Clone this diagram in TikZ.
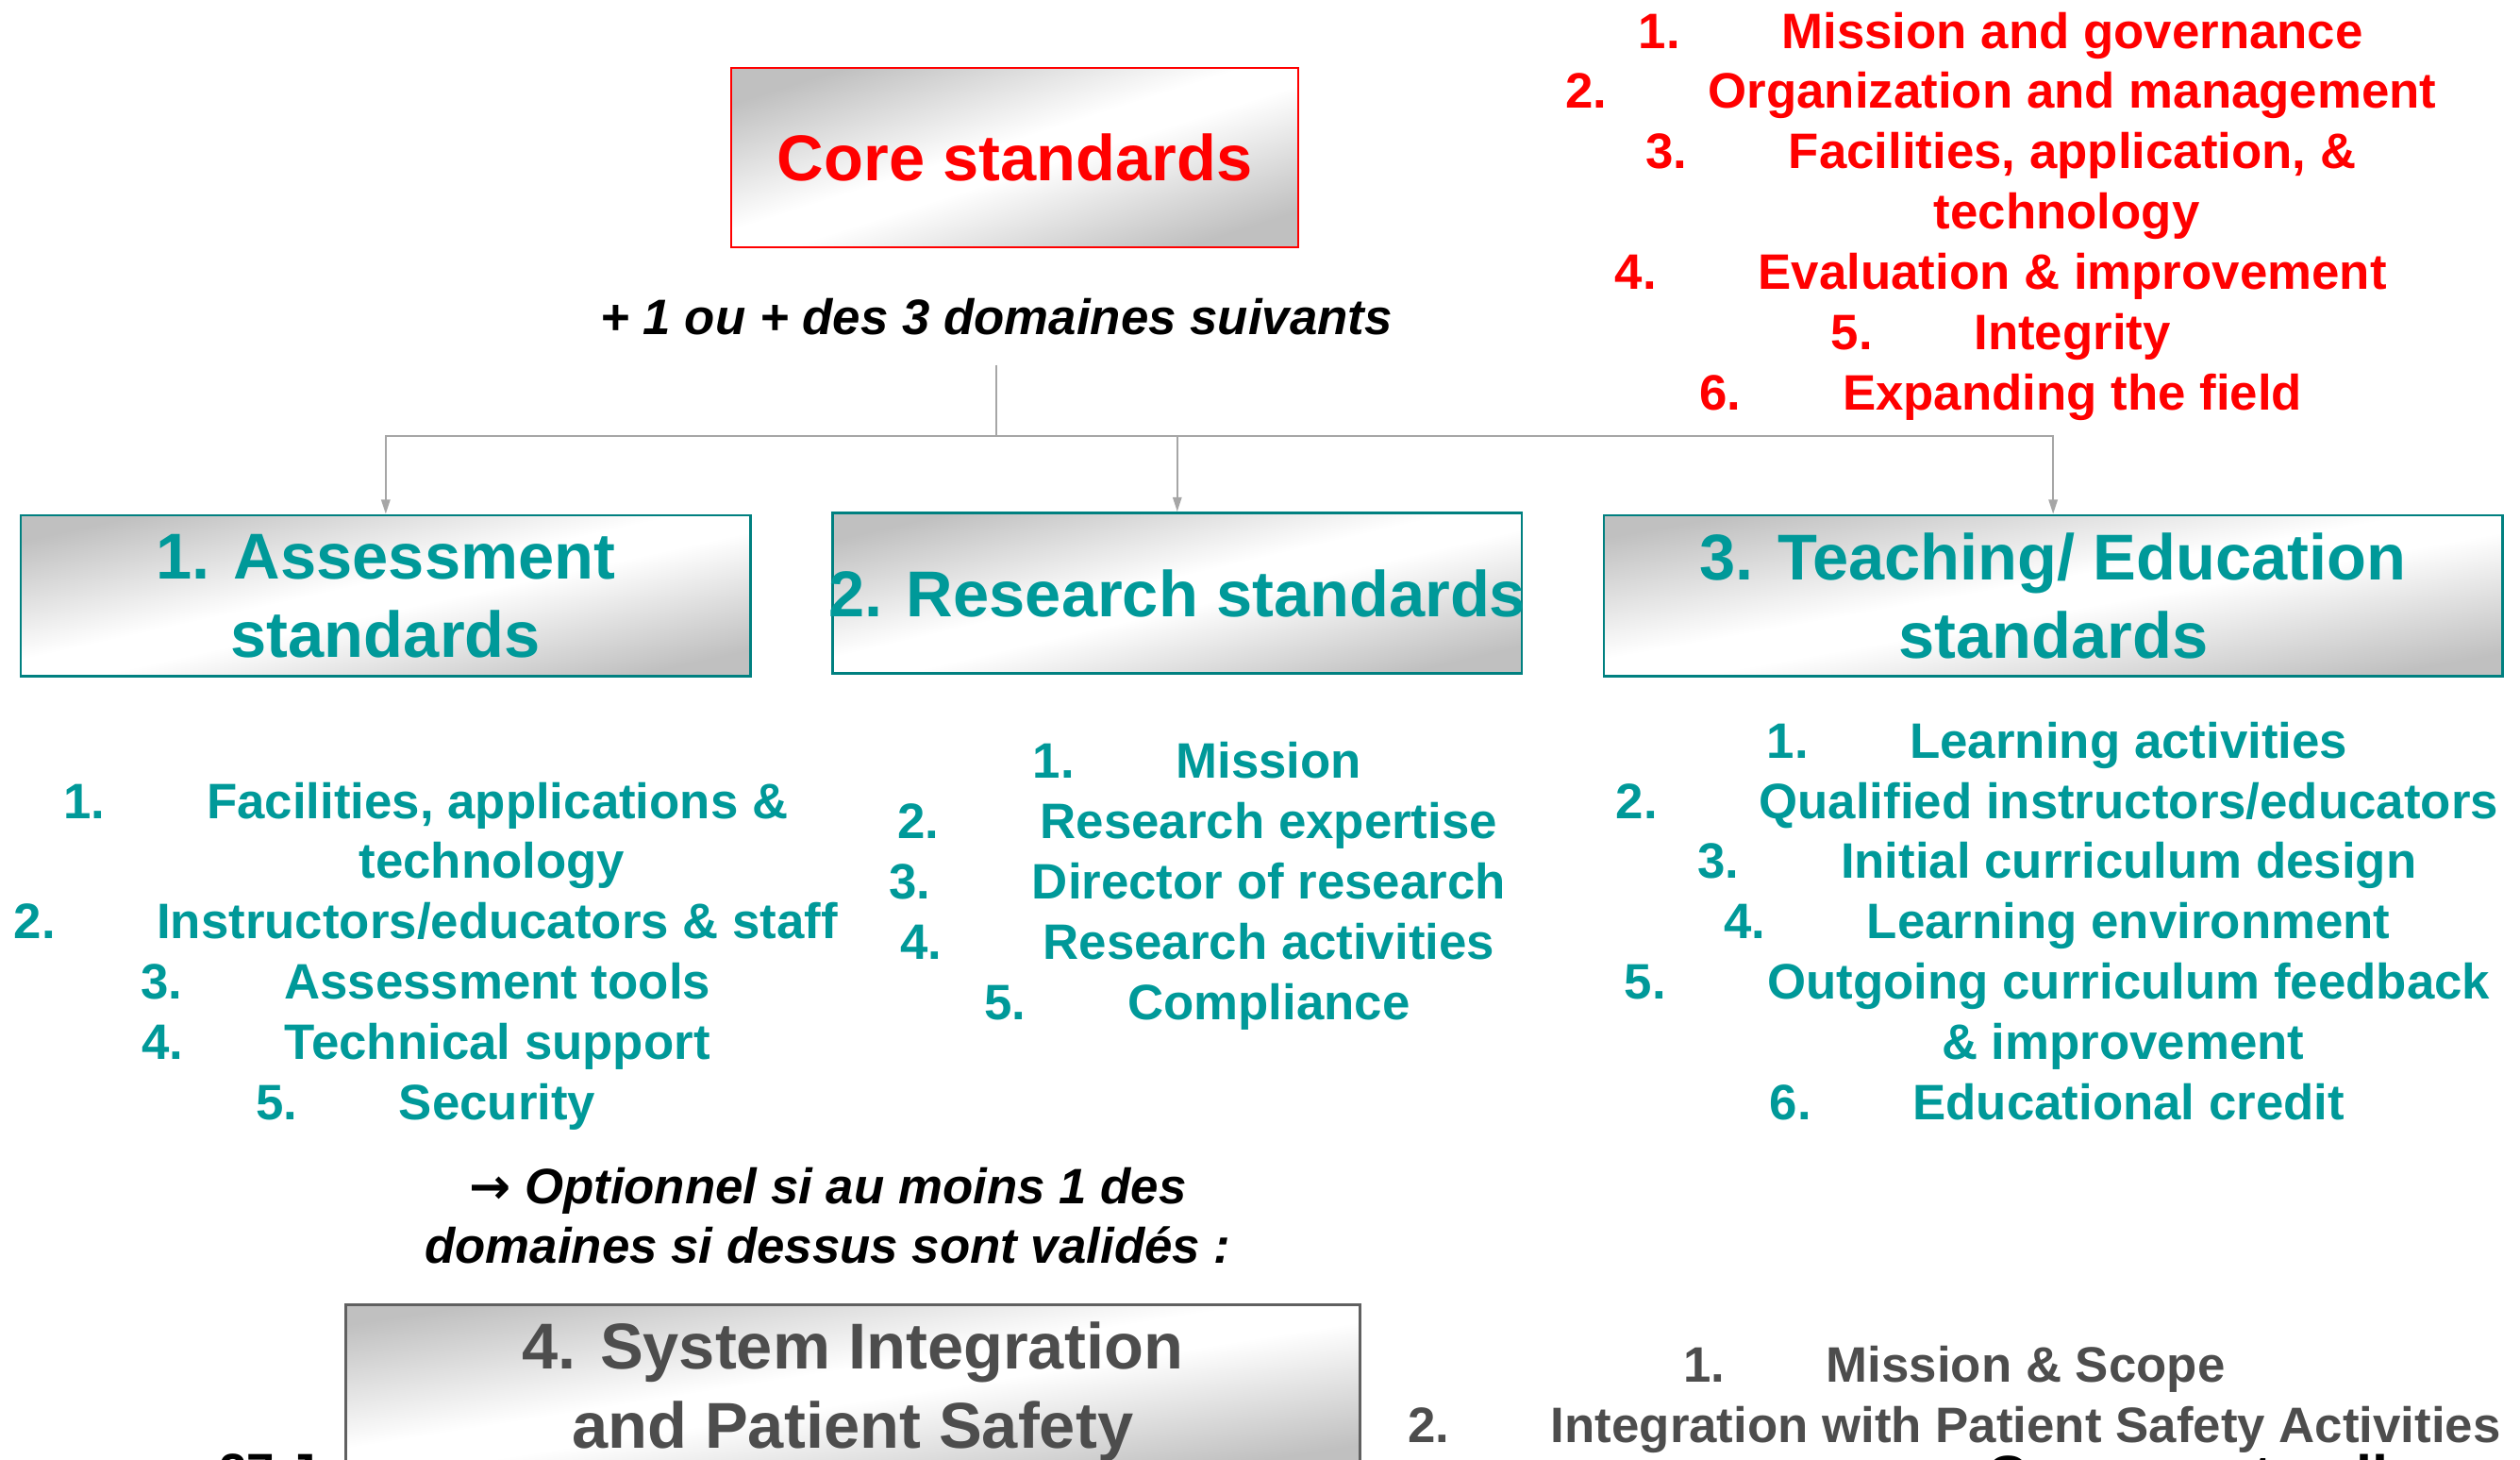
\documentclass[tikz,border=0pt]{standalone}
\usepackage{fontspec}
\setmainfont{Liberation Sans}
\newfontfamily\arrowfont{DejaVu Sans}
\usetikzlibrary{arrows.meta}
\definecolor{cred}{HTML}{FF0000}
\definecolor{cteal}{HTML}{009999}
\definecolor{cteald}{HTML}{008080}
\definecolor{cdark}{HTML}{4D4D4D}
\definecolor{cgrayb}{HTML}{606060}
\definecolor{cline}{HTML}{A6A6A6}
\definecolor{csilver}{HTML}{C0C0C0}
\pgfdeclarehorizontalshading{silver}{100bp}{color(0bp)=(csilver); color(25bp)=(csilver); color(47bp)=(white); color(53bp)=(white); color(75bp)=(csilver); color(100bp)=(csilver)}
\newcommand\fsL{\fontsize{31}{37.5}\selectfont}
\newcommand\fsT{\fontsize{40.3}{49}\selectfont}
\newcommand\listline[2]{\makebox[89pt][l]{#1}#2}
\begin{document}
\begin{tikzpicture}[x=1pt,y=-1pt,
  silverbox/.style={shade, shading=silver, inner sep=0pt, align=center, font=\bfseries\fsT, text depth=0pt},
  corebox/.style={silverbox, draw=cred, line width=1.2pt, text=cred},
  tealbox/.style={silverbox, draw=cteald, line width=1.5pt, text=cteal, minimum height=100pt},
  graybox/.style={silverbox, draw=cgrayb, line width=1.8pt, text=cdark, minimum height=100pt},
  li/.style={anchor=base, inner sep=0pt, font=\bfseries\fsL},
  redli/.style={li, text=cred},
  tealli/.style={li, text=cteal},
  darkli/.style={li, text=cdark},
  note/.style={anchor=base, inner sep=0pt, font=\bfseries\itshape\fsL},
  conn/.style={draw=cline, line width=1.2pt},
  connarrow/.style={conn, -{Triangle[length=9pt,width=5.5pt]}},
]
\useasboundingbox (0,0) rectangle (1568,908);
\clip (0,0) rectangle (1568,908);

% core box
\node[corebox, minimum width=353pt, minimum height=112pt, shading angle=-72.4] (core) at (631.5,98) {Core standards};
\node[note] (plus) at (620,208) {+ 1 ou + des 3 domaines suivants};

% domain boxes
\node[tealbox, minimum width=454pt, shading angle=-77.6] (b1) at (240,370.5) {1. Assessment\\standards};
\node[tealbox, minimum width=429pt, shading angle=-76.9] (b2) at (732.5,369) {\makebox[429pt][c]{2. Research standards}};
\node[tealbox, minimum width=559pt, shading angle=-79.9] (b3) at (1277.5,370.5) {3. Teaching/ Education\\standards};

% connectors
\coordinate (top) at (620,227);
\coordinate (split) at (620,271);
\draw[conn] (top) -- (split);
\draw[connarrow] (split) -| (b1.north);
\draw[connarrow] (split) -| (b2.north);
\draw[connarrow] (split) -| (b3.north);

% core list
\node[redli] (r1) at (1245,30) {\listline{1.}{Mission and governance}};
\node[redli] (r2) at (1245,67.5) {\listline{2.}{Organization and management}};
\node[redli] (r3) at (1245,105) {\listline{3.}{Facilities, application, \&}};
\node[redli] (r3b) at (1286,142.5) {technology};
\node[redli] (r4) at (1245,180) {\listline{4.}{Evaluation \& improvement}};
\node[redli] (r5) at (1245,217.5) {\listline{5.}{Integrity}};
\node[redli] (r6) at (1245,255) {\listline{6.}{Expanding the field}};

% assessment list
\node[tealli] (a1) at (265,509) {\listline{1.}{Facilities, applications \&}};
\node[tealli] (a1b) at (306,546.5) {technology};
\node[tealli] (a2) at (265,584) {\listline{2.}{Instructors/educators \& staff}};
\node[tealli] (a3) at (265,621.5) {\listline{3.}{Assessment tools}};
\node[tealli] (a4) at (265,659) {\listline{4.}{Technical support}};
\node[tealli] (a5) at (265,696.5) {\listline{5.}{Security}};

% research list
\node[tealli] (s1) at (745,484) {\listline{1.}{Mission}};
\node[tealli] (s2) at (745,521.5) {\listline{2.}{Research expertise}};
\node[tealli] (s3) at (745,559) {\listline{3.}{Director of research}};
\node[tealli] (s4) at (745,596.5) {\listline{4.}{Research activities}};
\node[tealli] (s5) at (745,634) {\listline{5.}{Compliance}};

% teaching list
\node[tealli] (t1) at (1280,471.5) {\listline{1.}{Learning activities}};
\node[tealli] (t2) at (1280,509) {\listline{2.}{Qualified instructors/educators}};
\node[tealli] (t3) at (1280,546.5) {\listline{3.}{Initial curriculum design}};
\node[tealli] (t4) at (1280,584) {\listline{4.}{Learning environment}};
\node[tealli] (t5) at (1280,621.5) {\listline{5.}{Outgoing curriculum feedback}};
\node[tealli] (t5b) at (1321,659) {\& improvement};
\node[tealli] (t6) at (1280,696.5) {\listline{6.}{Educational credit}};

% optional note
\node[note] (opt1) at (515,749) {{\arrowfont →} Optionnel si au moins 1 des};
\node[note] (opt2) at (515,786) {domaines si dessus sont validés :};

% box 4 (its lower edge lies just below the picture)
\node[graybox, minimum width=631pt, shading angle=-81] (b4) at (530.5,861.5) {4. System Integration\\and Patient Safety};

% box 4 list
\node[darkli] (p1) at (1216,860) {\listline{1.}{Mission \& Scope}};
\node[darkli] (p2) at (1216,897.5) {\listline{2.}{Integration with Patient Safety Activities}};

% footer texts, cut by the lower edge as in the reference
\node[anchor=base west, inner sep=0pt, font=\bfseries\fontsize{36}{43}\selectfont] (common) at (1236,931) {Common to all};
\node[anchor=base west, inner sep=0pt, font=\bfseries\fsL] (date) at (136,926) {27 J};
\end{tikzpicture}
\end{document}
